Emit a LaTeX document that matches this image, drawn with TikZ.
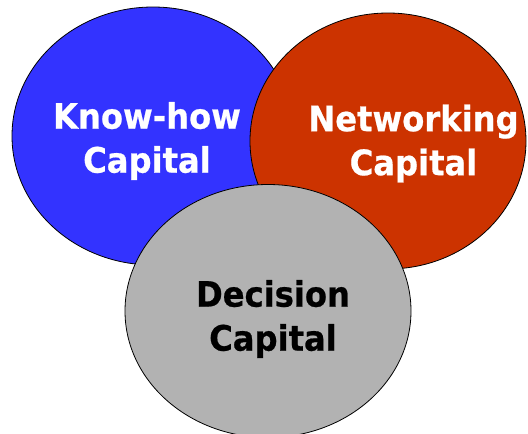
\documentclass[tikz,border=0pt]{standalone}
\usepackage{fontspec}
\usetikzlibrary{shapes.geometric}
\newfontfamily\labfont[FakeStretch=0.92, BoldFeatures={FakeBold=0.6}]{DejaVu Sans}
\definecolor{knowblue}{HTML}{3333FF}
\definecolor{netred}{HTML}{CC3300}
\definecolor{decgray}{HTML}{B2B2B2}
\begin{document}
\begin{tikzpicture}[x=1pt,y=-1pt,
  blob/.style={ellipse, draw=black, line width=0.8pt, inner sep=0pt},
  lab/.style={align=center, inner sep=0pt, font=\labfont\bfseries\fontsize{35}{44}\selectfont}]
\useasboundingbox (0,0) rectangle (528,434);
\begin{scope}
\clip (0,0) rectangle (528,434);
\node[blob, fill=knowblue, minimum width=282pt, minimum height=258pt] (blue) at (153,136) {};
\node[blob, fill=netred, minimum width=276pt, minimum height=256pt] (red) at (388,141) {};
\node[blob, fill=decgray, minimum width=286pt, minimum height=253pt] (gray) at (268,311) {};
\end{scope}
\node[lab, text=white] (know) at (147,141) {Know-how\\Capital};
\node[lab, text=white] (net) at (413.5,143.5) {Networking\\Capital};
\node[lab, text=black] (dec) at (273,319) {Decision\\Capital};
\end{tikzpicture}
\end{document}
